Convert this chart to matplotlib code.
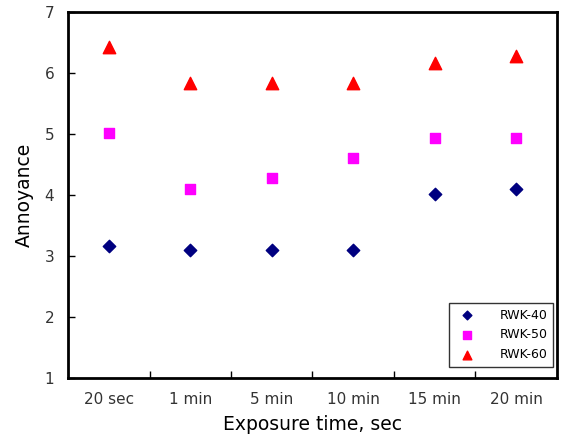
import matplotlib
matplotlib.use("Agg")
import matplotlib.pyplot as plt

categories = ["20 sec", "1 min", "5 min", "10 min", "15 min", "20 min"]
rwk40 = [3.17, 3.09, 3.09, 3.09, 4.01, 4.09]
rwk50 = [5.02, 4.10, 4.27, 4.61, 4.94, 4.94]
rwk60 = [6.42, 5.84, 5.84, 5.84, 6.17, 6.27]

fig = plt.figure(figsize=(5.63, 4.43), dpi=100)
ax = fig.add_axes([0.121, 0.147, 0.868, 0.826])
x = list(range(len(categories)))
ax.scatter(x, rwk40, marker="D", s=40, color="#000080", label="RWK-40", zorder=3)
ax.scatter(x, rwk50, marker="s", s=60, color="#FF00FF", label="RWK-50", zorder=3)
ax.scatter(x, rwk60, marker="^", s=80, color="#FF0000", label="RWK-60", zorder=3)

ax.set_xlim(-0.5, 5.5)
ax.set_ylim(1, 7)
ax.set_yticks(range(1, 8))
ax.set_xticks([i + 0.5 for i in range(5)])
ax.set_xticklabels([])
ax.set_xticks(x, minor=True)
ax.set_xticklabels(categories, minor=True)
ax.tick_params(axis="x", which="minor", length=0, pad=10, labelsize=11, labelcolor="#333333")
ax.tick_params(axis="x", which="major", direction="in", length=5, width=1)
ax.tick_params(axis="y", direction="in", length=5, width=1, pad=10, labelsize=11, labelcolor="#333333")
for s in ax.spines.values():
    s.set_linewidth(2)

ax.set_xlabel("Exposure time, sec", fontsize=13.5, labelpad=6)
ax.set_ylabel("Annoyance", fontsize=13.5, labelpad=8)

leg = ax.legend(loc="lower right", fontsize=9, frameon=True, fancybox=False,
                edgecolor="black", borderpad=0.45, handletextpad=1.6, labelspacing=0.55,
                markerscale=0.7, borderaxespad=0, bbox_to_anchor=(0.992, 0.03))
leg.get_frame().set_linewidth(1)

fig.savefig("out.png", dpi=100)
